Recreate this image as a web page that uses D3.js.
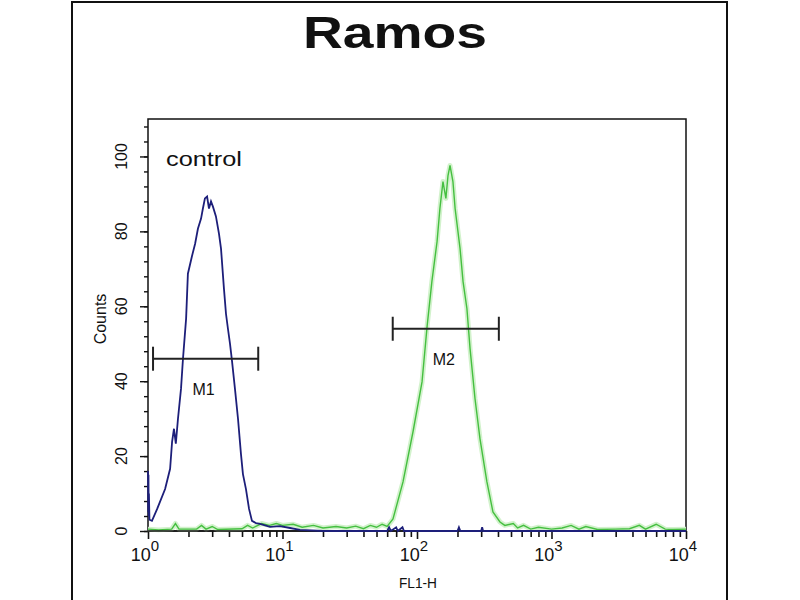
<!DOCTYPE html>
<html>
<head>
<meta charset="utf-8">
<script src="https://cdn.jsdelivr.net/npm/d3@7"></script>
<style>
  body { margin: 0; background: #fff; }
  text { font-family: "Liberation Sans", Arial, sans-serif; fill: #111; }
</style>
</head>
<body>
<svg width="800" height="600"></svg>
<script>
// control histogram (blue) - FL1-H value, counts
var controlFL = [1.00, 1.004, 1.008, 1.012, 1.016, 1.025, 1.07, 1.17, 1.34, 1.46, 1.51, 1.56, 1.61, 1.67, 1.76, 1.82, 1.92, 1.98,
  2.12, 2.24, 2.35, 2.48, 2.56, 2.65, 2.75, 2.84, 2.94, 3.04, 3.2, 3.37, 3.49, 3.67, 3.8, 3.93, 4.07, 4.21, 4.43, 4.67,
  4.91, 5.08, 5.35, 5.64, 5.93, 6.35, 6.8, 8.08, 9.58, 11.4, 13.5, 20, 60, 62, 64, 70, 72, 78, 80, 200, 205, 210, 300, 305, 310, 10000];
var controlCounts = [16, 5, 15, 4, 10, 3, 2.7, 5.9, 11.2, 16.6, 23.8, 27.3, 23.3, 29.9, 38, 46, 56.7, 68.7,
  73.3, 76.7, 80.7, 83.4, 86.1, 88.8, 89.3, 86.1, 88, 86.6, 84, 79.4, 75.4, 64.7, 58, 54, 50, 45.5, 38, 29.9,
  20.6, 15.2, 11.2, 5.9, 2.7, 2.1, 1.9, 1.1, 1.3, 0.8, 0.3, 0, 0, 1, 0, 1, 0, 1, 0, 0, 1, 0, 0, 1, 0, 0];

// stained sample histogram (green)
var sampleFL = [1, 1.2, 1.5, 1.6, 1.7, 2.3, 2.5, 2.7, 3.0, 3.3, 5, 5.5, 6, 7, 8, 9, 10, 12, 14, 17, 20, 25, 30, 35, 40,
  45, 50, 55, 60, 66.3, 78.7, 93.4, 109, 119, 129, 141, 148, 156, 164, 170, 176, 185, 192, 209, 220, 235, 248,
  270, 294, 331, 367, 414, 450, 520, 560, 620, 700, 800, 1000, 1200, 1400, 1600, 1800, 2200, 3000, 3800, 4500,
  5000, 6000, 7000, 8000, 10000];
var sampleCounts = [0.5, 0.3, 0.5, 2, 0.5, 0.5, 1.5, 0.5, 1.2, 0.4, 0.6, 1.5, 0.8, 2, 1.5, 2, 1.5, 1.8, 1, 1.5, 0.8, 1.2, 0.8, 1.3, 0.6,
  1.5, 1, 1.8, 1.2, 3.2, 13.1, 26.5, 39.8, 54.8, 66.6, 77.3, 86.1, 93.3, 88.8, 94.9, 97.6, 93.3, 86.1, 75.4, 66.6, 59.4, 48.7,
  35.3, 24.6, 13.1, 5.1, 2.4, 1.5, 2, 0.8, 1.5, 0.5, 1, 0.5, 0.8, 1.5, 0.5, 1.2, 0.4, 0.5, 0.6, 1.5,
  0.5, 1.8, 0.5, 0.4, 0.5];

// gate markers
var markerNames = ['M1', 'M2'];
var markerLo = [1.09, 66];
var markerHi = [6.6, 406];
var markerLevel = [46, 54];

var yTicks = [0, 20, 40, 60, 80, 100];
var xTicks = [1, 10, 100, 1000, 10000];

const plotLeft = 148, plotRight = 686, plotTop = 119, plotBottom = 531;

const svg = d3.select('svg');

// outer frame
svg.append('rect')
  .attr('x', 72).attr('y', 2)
  .attr('width', 655).attr('height', 640)
  .attr('fill', 'none')
  .attr('stroke', '#111')
  .attr('stroke-width', 2);

svg.append('text')
  .attr('x', 395).attr('y', 48)
  .attr('text-anchor', 'middle')
  .attr('font-size', 45)
  .attr('font-weight', 'bold')
  .attr('textLength', 184)
  .attr('lengthAdjust', 'spacingAndGlyphs')
  .text('Ramos');

const xScale = d3.scaleLog()
  .domain([1, 10000])
  .range([plotLeft, plotRight]);

const yScale = d3.scaleLinear()
  .domain([0, 110])
  .range([plotBottom, plotTop]);

// plot box
svg.append('rect')
  .attr('x', plotLeft).attr('y', plotTop)
  .attr('width', plotRight - plotLeft).attr('height', plotBottom - plotTop)
  .attr('fill', 'none')
  .attr('stroke', '#111')
  .attr('stroke-width', 1.5);

// y axis: minor every 4, major every 20
svg.append('g')
  .attr('class', 'yaxis')
  .attr('transform', `translate(${plotLeft}, 0)`)
  .call(d3.axisLeft(yScale).tickValues(d3.range(0, 110, 4)).tickSize(4).tickFormat(''))
  .call(g => g.select('.domain').remove());
svg.append('g')
  .attr('class', 'yaxis')
  .attr('transform', `translate(${plotLeft}, 0)`)
  .call(d3.axisLeft(yScale).tickValues(yTicks).tickSize(8).tickFormat(''))
  .call(g => g.select('.domain').remove());
svg.selectAll('.yaxis .tick line').attr('stroke', '#111').attr('stroke-width', 1.4);

svg.selectAll('.ylab')
  .data(yTicks)
  .enter()
  .append('text')
  .attr('class', 'ylab')
  .attr('transform', d => `translate(127, ${yScale(d)}) rotate(-90)`)
  .attr('text-anchor', 'middle')
  .attr('font-size', 16)
  .text(d => d);

svg.append('text')
  .attr('transform', 'translate(106, 319) rotate(-90)')
  .attr('text-anchor', 'middle')
  .attr('font-size', 16)
  .text('Counts');

// x axis: log ticks
var xMinor = [];
for (var e = 0; e < 4; e++) {
  for (var m = 2; m <= 9; m++) xMinor.push(m * Math.pow(10, e));
}
svg.append('g')
  .attr('class', 'xaxis')
  .attr('transform', `translate(0, ${plotBottom})`)
  .call(d3.axisBottom(xScale).tickValues(xMinor).tickSize(6).tickFormat(''))
  .call(g => g.select('.domain').remove());
svg.append('g')
  .attr('class', 'xaxis')
  .attr('transform', `translate(0, ${plotBottom})`)
  .call(d3.axisBottom(xScale).tickValues(xTicks).tickSize(8).tickFormat(''))
  .call(g => g.select('.domain').remove());
svg.selectAll('.xaxis .tick line').attr('stroke', '#111').attr('stroke-width', 1.6);

var xl = svg.selectAll('.xlab')
  .data(xTicks)
  .enter()
  .append('text')
  .attr('class', 'xlab')
  .attr('x', d => xScale(d) - 3)
  .attr('y', 561)
  .attr('text-anchor', 'middle')
  .attr('font-size', 18);
xl.append('tspan').text('10');
xl.append('tspan').attr('dy', -10).attr('font-size', 15).text((d, i) => i);

svg.append('text')
  .attr('x', 418).attr('y', 588)
  .attr('text-anchor', 'middle')
  .attr('font-size', 15)
  .attr('textLength', 38)
  .attr('lengthAdjust', 'spacingAndGlyphs')
  .text('FL1-H');

// histograms
var control = controlFL.map((v, i) => ({ fl: v, c: controlCounts[i] }));
var sample = sampleFL.map((v, i) => ({ fl: v, c: sampleCounts[i] }));

var line = d3.line()
  .x(d => xScale(d.fl))
  .y(d => yScale(d.c));

svg.append('path')
  .datum(sample)
  .attr('d', line)
  .attr('fill', 'none')
  .attr('stroke', '#d2f2cc')
  .attr('stroke-width', 5)
  .attr('stroke-linejoin', 'round');
svg.append('path')
  .datum(sample)
  .attr('d', line)
  .attr('fill', 'none')
  .attr('stroke', '#45bf40')
  .attr('stroke-width', 1.4);

// axis line
svg.append('line')
  .attr('x1', plotLeft).attr('x2', plotRight)
  .attr('y1', plotBottom).attr('y2', plotBottom)
  .attr('stroke', '#111')
  .attr('stroke-width', 1.5);

svg.append('path')
  .datum(control)
  .attr('d', line)
  .attr('fill', 'none')
  .attr('stroke', '#1d1f7a')
  .attr('stroke-width', 1.8);

// markers
markerNames.forEach(function(name, i) {
  var y = yScale(markerLevel[i]);
  var x0 = xScale(markerLo[i]), x1 = xScale(markerHi[i]);
  var g = svg.append('g').attr('stroke', '#222').attr('stroke-width', 2);
  g.append('line').attr('x1', x0).attr('x2', x1).attr('y1', y).attr('y2', y);
  g.append('line').attr('x1', x0).attr('x2', x0).attr('y1', y - 12).attr('y2', y + 12);
  g.append('line').attr('x1', x1).attr('x2', x1).attr('y1', y - 12).attr('y2', y + 12);
  svg.append('text')
    .attr('x', (x0 + x1) / 2 - 2)
    .attr('y', y + 36)
    .attr('text-anchor', 'middle')
    .attr('font-size', 16)
    .text(name);
});

svg.append('text')
  .attr('x', 166).attr('y', 166)
  .attr('font-size', 20)
  .attr('textLength', 76)
  .attr('lengthAdjust', 'spacingAndGlyphs')
  .text('control');
</script>
</body>
</html>
